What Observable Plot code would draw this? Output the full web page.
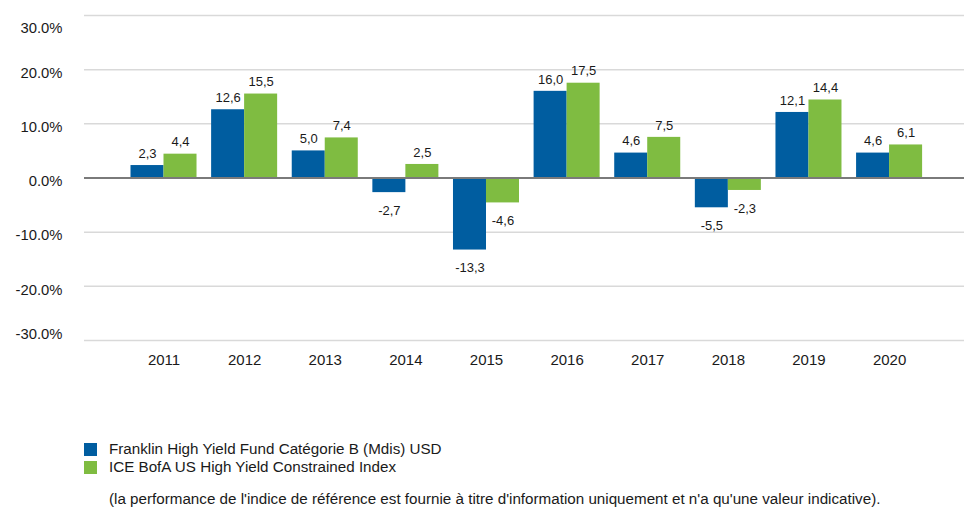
<!DOCTYPE html>
<html><head><meta charset="utf-8">
<script src="https://cdn.jsdelivr.net/npm/d3@7"></script>
<script src="https://cdn.jsdelivr.net/npm/@observablehq/plot@0.6"></script>
<style>
body{margin:0;background:#fff;font-family:"Liberation Sans",Arial,sans-serif;color:#1a1a1a}
#legend{padding:20px 0 0 84px;font-size:15.2px;line-height:18px}
.item{display:flex;align-items:center;height:18px}
.sw{width:13px;height:13px;margin-right:12px;flex:none}
.note{margin:14px 0 0 25px;height:18px;white-space:nowrap}
</style></head><body>
<div id="chart"></div>
<div id="legend"></div>
<script>
const years = ["2011","2012","2013","2014","2015","2016","2017","2018","2019","2020"];
const fundValues = [2.3, 12.6, 5.0, -2.7, -13.3, 16.0, 4.6, -5.5, 12.1, 4.6];
const indexValues = [4.4, 15.5, 7.4, 2.5, -4.6, 17.5, 7.5, -2.3, 14.4, 6.1];
const seriesNames = ["Franklin High Yield Fund Catégorie B (Mdis) USD", "ICE BofA US High Yield Constrained Index"];
const seriesColors = ["#005DA0", "#7FBC41"];
const yTicks = [-30, -20, -10, 0, 10, 20, 30];
const noteText = "(la performance de l'indice de référence est fournie à titre d'information uniquement et n'a qu'une valeur indicative).";

const fund = years.map((y, i) => ({year: y, value: fundValues[i]}));
const index = years.map((y, i) => ({year: y, value: indexValues[i]}));
const fmt = v => v.toFixed(1).replace(".", ",");
const labelStyle = {fontSize: 13, fill: "#1a1a1a"};
const yFmt = d => d.toFixed(1) + "%";
const yAxisStyle = {tickSize: 0, tickPadding: 22, tickFormat: yFmt, fontSize: 14.8, label: null};

const chart = Plot.plot({
  width: 964, height: 420,
  marginLeft: 84, marginRight: 0, marginTop: 15, marginBottom: 80,
  style: {fontFamily: "Liberation Sans, Arial, sans-serif", fontSize: "15px", color: "#1a1a1a", background: "#fff"},
  x: {type: "band", domain: years, range: [123.2, 929.4], padding: 0, round: false, label: null},
  y: {domain: [-30, 30], label: null},
  marks: [
    Plot.ruleY(yTicks.filter(d => d !== 0), {stroke: "#d9d9d9", strokeWidth: 1.5}),
    Plot.barY(fund, {x: "year", y: "value", fill: seriesColors[0], insetLeft: 7.3, insetRight: 40.3}),
    Plot.barY(index, {x: "year", y: "value", fill: seriesColors[1], insetLeft: 40.3, insetRight: 7.3}),
    Plot.ruleY([0], {stroke: "#7a7a7a", strokeWidth: 2}),
    Plot.text(fund.filter(d => d.value >= 0), {x: "year", y: "value", text: d => fmt(d.value), dx: -16.5, dy: -12, ...labelStyle}),
    Plot.text(fund.filter(d => d.value < 0), {x: "year", y: "value", text: d => fmt(d.value), dx: -16.5, dy: 18, ...labelStyle}),
    Plot.text(index.filter(d => d.value >= 0), {x: "year", y: "value", text: d => fmt(d.value), dx: 16.5, dy: -12, ...labelStyle}),
    Plot.text(index.filter(d => d.value < 0), {x: "year", y: "value", text: d => fmt(d.value), dx: 16.5, dy: 18, ...labelStyle}),
    Plot.axisY({ticks: yTicks.filter(d => Math.abs(d) < 30), dy: 3.5, ...yAxisStyle}),
    Plot.axisY({ticks: yTicks.filter(d => d === 30), dy: 13, ...yAxisStyle}),
    Plot.axisY({ticks: yTicks.filter(d => d === -30), dy: -6, ...yAxisStyle}),
    Plot.axisX({tickSize: 0, tickPadding: 14, fontSize: 15, label: null})
  ]
});
document.getElementById("chart").appendChild(chart);

const legend = document.getElementById("legend");
seriesNames.forEach((name, i) => {
  const row = document.createElement("div");
  row.className = "item";
  const sw = document.createElement("span");
  sw.className = "sw";
  sw.style.background = seriesColors[i];
  const t = document.createElement("span");
  t.textContent = name;
  row.appendChild(sw); row.appendChild(t);
  legend.appendChild(row);
});
const note = document.createElement("div");
note.className = "note";
note.textContent = noteText;
legend.appendChild(note);
</script>
</body></html>
